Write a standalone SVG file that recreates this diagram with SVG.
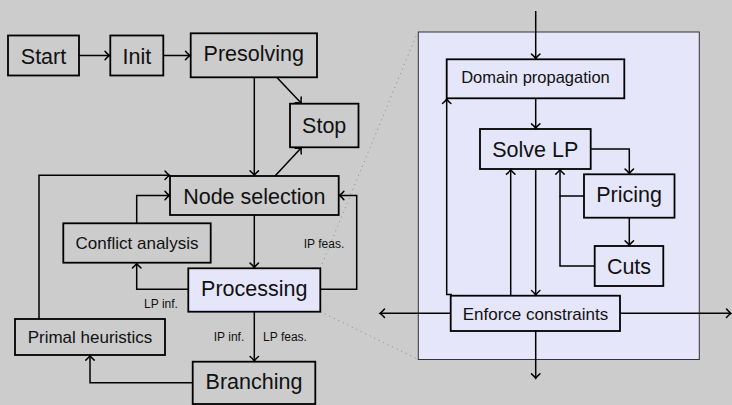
<svg xmlns="http://www.w3.org/2000/svg" width="732" height="405" viewBox="0 0 732 405">
<style>
.box{fill:none;stroke:#000;stroke-width:1.8}
.hl{fill:#e6e6fa;stroke:#000;stroke-width:1.8}
.t{font-family:"Liberation Sans",Arial,sans-serif;fill:#111;text-anchor:middle}
.big{font-size:21.5px}
.mid{font-size:17px}
.sm{font-size:12px}
.c{fill:none;stroke:#000;stroke-width:1.5}
.dot{fill:none;stroke:#8a8a8a;stroke-width:1;stroke-dasharray:1 4}
</style>
<defs>
<marker id="a" markerUnits="userSpaceOnUse" markerWidth="12" markerHeight="12" viewBox="-8 -6 10 12" refX="0" refY="0" orient="auto">
<path d="M-4.5,-4.2 Q-2,-1.2 0,0 Q-2,1.2 -4.5,4.2" fill="none" stroke="#000" stroke-width="1.5" stroke-linecap="round"/>
</marker>
</defs>
<rect width="732" height="405" fill="#cccccc"/>
<g id="panel">
<rect x="418.3" y="32" width="281" height="327.5" fill="#e6e6fa" stroke="#333" stroke-width="1"/>
</g>
<g id="zoom-lines">
<path class="dot" d="M320.3,268.3 L417.5,32.5"/>
<path class="dot" d="M320.3,311.7 L417.5,359"/>
</g>
<g id="connectors">
<path class="c" marker-end="url(#a)" d="M79,55.5 H109.5"/>
<path class="c" marker-end="url(#a)" d="M163.3,55.5 H190"/>
<path class="c" marker-end="url(#a)" d="M254.3,77.3 V175.3"/>
<path class="c" marker-end="url(#a)" d="M276.7,77.3 L301.3,103.2"/>
<path class="c" marker-end="url(#a)" d="M275,176 L301.3,147.8"/>
<path class="c" marker-end="url(#a)" d="M39,319 V175.3 H169.5"/>
<path class="c" marker-end="url(#a)" d="M136.7,223.3 V195.5 H169.5"/>
<path class="c" marker-end="url(#a)" d="M254.3,215 V267.6"/>
<path class="c" marker-end="url(#a)" d="M188.3,289.3 H136.7 V263.4"/>
<path class="c" marker-end="url(#a)" d="M320.3,289.3 H356.7 V195.5 H339.4"/>
<path class="c" marker-end="url(#a)" d="M254.3,311.7 V361"/>
<path class="c" marker-end="url(#a)" d="M192.7,382.7 H90 V355.7"/>
<path class="c" marker-end="url(#a)" d="M535.7,11 V58.6"/>
<path class="c" marker-end="url(#a)" d="M535.7,98.3 V128.3"/>
<path class="c" marker-end="url(#a)" d="M590.7,149 H629.3 V173.6"/>
<path class="c" marker-end="url(#a)" d="M629.3,217.7 V245.3"/>
<path class="c" marker-end="url(#a)" d="M584,196 H560 V169.7"/>
<path class="c" d="M594.7,266 H560 V196"/>
<path class="c" marker-end="url(#a)" d="M510.7,295.7 V169.7"/>
<path class="c" marker-end="url(#a)" d="M535.7,169 V295"/>
<path class="c" marker-end="url(#a)" d="M452,294.6 H446.7 V99"/>
<path class="c" marker-end="url(#a)" d="M450.7,313.3 H380"/>
<path class="c" marker-end="url(#a)" d="M620,313.3 H731"/>
<path class="c" marker-end="url(#a)" d="M535.7,331 V378.3"/>
<text class="t sm" x="161" y="308.3">LP inf.</text>
<text class="t sm" x="324" y="247.7">IP feas.</text>
<text class="t sm" x="229" y="341">IP inf.</text>
<text class="t sm" x="285" y="341">LP feas.</text>
</g>
<g id="start"><rect class="box" x="8" y="35.5" width="71" height="40"/><text class="t big" x="43.5" y="64">Start</text></g>
<g id="init"><rect class="box" x="110.3" y="35.5" width="53" height="40"/><text class="t big" x="136.8" y="64">Init</text></g>
<g id="presolving"><rect class="box" x="190.7" y="33.3" width="126.3" height="44"/><text class="t big" x="253.8" y="61">Presolving</text></g>
<g id="stop"><rect class="box" x="290" y="103.7" width="68.5" height="43.6"/><text class="t big" x="324.2" y="132.7">Stop</text></g>
<g id="node-selection"><rect class="box" x="170" y="176" width="168.7" height="39"/><text class="t big" x="254.3" y="204">Node selection</text></g>
<g id="conflict-analysis"><rect class="box" x="63.3" y="223.3" width="147.4" height="39.4"/><text class="t mid" x="137" y="249">Conflict analysis</text></g>
<g id="processing"><rect class="hl" x="188.3" y="268.3" width="132" height="43.4"/><text class="t big" x="254.3" y="295.7">Processing</text></g>
<g id="primal-heuristics"><rect class="box" x="15" y="319" width="150" height="36"/><text class="t mid" x="90" y="342.7">Primal heuristics</text></g>
<g id="branching"><rect class="box" x="192.7" y="361.7" width="122.6" height="42.3"/><text class="t big" x="254" y="389">Branching</text></g>
<g id="domain-propagation"><rect class="box" x="446.7" y="59.3" width="177.6" height="39"/><text class="t mid" x="535.5" y="83.3" style="font-size:16.5px">Domain propagation</text></g>
<g id="solve-lp"><rect class="box" x="480" y="129" width="110.7" height="40"/><text class="t big" x="535.3" y="156.7">Solve LP</text></g>
<g id="pricing"><rect class="box" x="584" y="174.3" width="90.5" height="43.4"/><text class="t big" x="629" y="201.7">Pricing</text></g>
<g id="cuts"><rect class="box" x="594.7" y="246" width="68.6" height="40"/><text class="t big" x="629" y="273.7">Cuts</text></g>
<g id="enforce-constraints"><rect class="box" x="450.7" y="295.7" width="169.3" height="35.3"/><text class="t mid" x="535.5" y="320">Enforce constraints</text></g>
</svg>
